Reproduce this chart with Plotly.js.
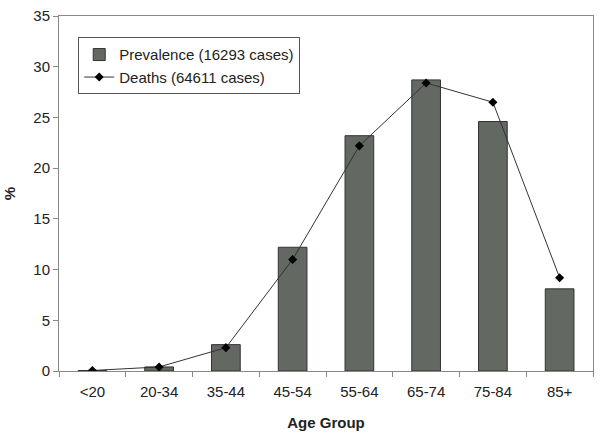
<!DOCTYPE html>
<html>
<head>
<meta charset="utf-8">
<script src="https://cdn.plot.ly/plotly-3.0.1.min.js"></script>
<style>html,body{margin:0;padding:0;background:#fff;}#chart{width:601px;height:437px;}</style>
</head>
<body>
<div id="chart"></div>
<script>
const ageGroups = ["<20", "20-34", "35-44", "45-54", "55-64", "65-74", "75-84", "85+"];
const prevalence = [0.05, 0.4, 2.6, 12.2, 23.2, 28.7, 24.6, 8.1];
const deaths = [0.05, 0.4, 2.3, 11.0, 22.2, 28.4, 26.5, 9.2];
const yTicks = [0, 5, 10, 15, 20, 25, 30, 35];

const traces = [
  {
    type: "bar", x: ageGroups, y: prevalence, name: "Prevalence (16293 cases)",
    width: 0.43,
    marker: {color: "#636863", line: {color: "#333333", width: 1}}
  },
  {
    type: "scatter", mode: "lines+markers", x: ageGroups, y: deaths, name: "Deaths (64611 cases)",
    line: {color: "#333333", width: 1},
    marker: {symbol: "diamond", size: 7, color: "#000000"}
  }
];

const layout = {
  width: 601, height: 437,
  margin: {l: 59, r: 8, t: 16, b: 66},
  paper_bgcolor: "#ffffff", plot_bgcolor: "#ffffff",
  font: {family: "Liberation Sans, Arial, sans-serif", size: 15, color: "#222222"},
  showlegend: true,
  legend: {
    x: 0.036, y: 0.94, xanchor: "left", yanchor: "top",
    bgcolor: "#ffffff", bordercolor: "#555555", borderwidth: 1,
    font: {size: 15, color: "#222222"}, tracegroupgap: 0, itemwidth: 30
  },
  xaxis: {
    type: "category", tickson: "boundaries",
    showline: true, linecolor: "#888888", linewidth: 1, mirror: true,
    ticks: "outside", ticklen: 5, tickcolor: "#888888",
    showgrid: false, zeroline: false,
    tickfont: {size: 15}, ticklabelstandoff: 7,
    title: {text: "<b>Age Group</b>", font: {size: 15}, standoff: 18}
  },
  yaxis: {
    range: [0, 35], tickvals: yTicks, ticktext: yTicks.map(String),
    showline: true, linecolor: "#888888", linewidth: 1, mirror: true,
    ticks: "outside", ticklen: 5, tickcolor: "#888888",
    showgrid: false, zeroline: false,
    tickfont: {size: 15},
    title: {text: "<b>%</b>", font: {size: 15}, standoff: 14}
  },
  bargap: 0.5
};

Plotly.newPlot("chart", traces, layout, {displayModeBar: false, staticPlot: true});
</script>
</body>
</html>
